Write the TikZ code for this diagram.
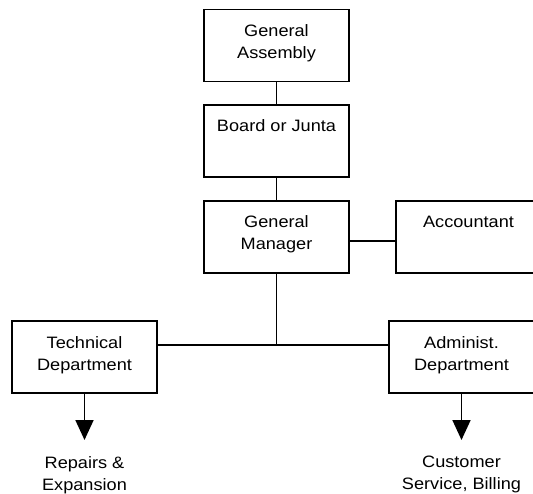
\documentclass[tikz,border=0pt]{standalone}
\usepackage{fontspec}
\setmainfont[FakeStretch=1.1]{Liberation Sans}
\usetikzlibrary{arrows.meta}
\newcommand\bxt[1]{\parbox[c][72pt][t]{145pt}{\centering\rule{0pt}{27pt}#1}}
\begin{document}
\begin{tikzpicture}[x=1pt,y=-1pt,
  every node/.style={font=\fontsize{16.5pt}{22pt}\selectfont},
  orgbox/.style={draw, line width=1.8pt, inner sep=0pt, fill=white},
  link/.style={line width=1.8pt},
  flow/.style={line width=1.8pt, -{Triangle[width=18pt,length=20pt]}},
  note/.style={align=center, inner sep=0pt, anchor=north}]
\fill[white] (0,0) rectangle (533,494);
\clip (0,0) rectangle (533,494);
\node[orgbox] (ga) at (276.5,45.5) {\bxt{General\\Assembly}};
\node[orgbox] (bd) at (276.5,141) {\bxt{Board or Junta}};
\node[orgbox] (gm) at (276.5,237) {\bxt{General\\Manager}};
\node[orgbox] (acc) at (468.5,237) {\bxt{Accountant}};
\node[orgbox] (tech) at (84.5,357) {\bxt{Technical\\Department}};
\node[orgbox] (adm) at (461.5,357) {\bxt{Administ.\\Department}};
\node[note] (rep) at (84.5,456) {Repairs \&\\Expansion};
\node[note] (cus) at (461.5,456) {Customer\\Service, Billing};
\draw[link] (ga.south) -- (bd.north);
\draw[link] (bd.south) -- (gm.north);
\draw[link] ([yshift=-4pt]gm.east) -- ([yshift=-4pt]acc.west);
\coordinate (h) at ([yshift=12pt]tech.east);
\draw[link] (h) -- ([yshift=12pt]adm.west);
\coordinate (j) at (gm.south |- h);
\draw[link] (gm.south) -- (j);
\draw[flow, shorten >=16pt] (tech.south) -- (rep.north);
\draw[flow, shorten >=16pt] (adm.south) -- (cus.north);
\end{tikzpicture}
\end{document}
